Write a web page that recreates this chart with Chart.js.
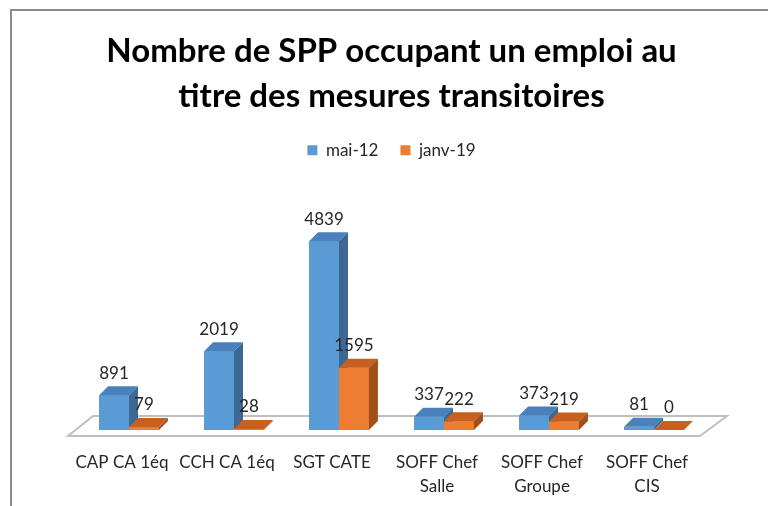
<html>

<head>
    <meta charset="utf-8">
    <title>Nombre de SPP</title>
    <script src="https://cdn.jsdelivr.net/npm/chart.js@4.4.1/dist/chart.umd.min.js"></script>
    <style>
        body { margin: 0; background: #fff; }
    </style>
</head>

<body>
    <canvas id="myChart" width="768" height="506"></canvas>
    <script>
        // data
        const categories = [['CAP CA 1éq'], ['CCH CA 1éq'], ['SGT CATE'], ['SOFF Chef', 'Salle'], ['SOFF Chef', 'Groupe'], ['SOFF Chef', 'CIS']];
        const seriesNames = ['mai-12', 'janv-19'];
        const mai12 = [891, 2019, 4839, 337, 373, 81];
        const janv19 = [79, 28, 1595, 222, 219, 0];

        const COLORS = {
            front: ['#5b9bd5', '#ed7d31'],
            top: ['#4a80bb', '#c7601f'],
            side: ['#3c6893', '#a1501c']
        };
        const FONT = 'Lato, "Open Sans", sans-serif';
        const DX = 9, DY = -9;   // bar depth

        // 3d faces, floor, frame and value labels
        const bars3d = {
            id: 'bars3d',
            beforeDraw(chart) {
                const ctx = chart.ctx;
                ctx.save();
                ctx.strokeStyle = '#8c8c8c';
                ctx.lineWidth = 2;
                ctx.beginPath();
                ctx.moveTo(11, 506);
                ctx.lineTo(11, 10);
                ctx.lineTo(768, 10);
                ctx.stroke();
                ctx.restore();
            },
            beforeDatasetsDraw(chart) {
                const ctx = chart.ctx;
                const { left, right } = chart.chartArea;
                const base = chart.scales.y.getPixelForValue(0);
                ctx.save();
                ctx.strokeStyle = '#bfbfbf';
                ctx.lineWidth = 2;
                ctx.beginPath();
                ctx.moveTo(left - 8.5, base + 6);
                ctx.lineTo(right - 6.5, base + 6);
                ctx.lineTo(right + 20.5, base - 14);
                ctx.lineTo(left + 16.5, base - 14);
                ctx.closePath();
                ctx.stroke();
                ctx.restore();
            },
            afterDatasetsDraw(chart) {
                const ctx = chart.ctx;
                ctx.save();
                // redraw series in order so the second one sits in front of the first
                chart.data.datasets.forEach((ds, i) => {
                    chart.getDatasetMeta(i).data.forEach(bar => {
                        bar.draw(ctx);
                        const l = bar.x - bar.width / 2, r = bar.x + bar.width / 2;
                        const t = bar.y, b = bar.base;
                        ctx.fillStyle = COLORS.top[i];
                        ctx.beginPath();
                        ctx.moveTo(l, t);
                        ctx.lineTo(l + DX, t + DY);
                        ctx.lineTo(r + DX, t + DY);
                        ctx.lineTo(r, t);
                        ctx.closePath();
                        ctx.fill();
                        ctx.fillStyle = COLORS.side[i];
                        ctx.beginPath();
                        ctx.moveTo(r, t);
                        ctx.lineTo(r + DX, t + DY);
                        ctx.lineTo(r + DX, b + DY);
                        ctx.lineTo(r, b);
                        ctx.closePath();
                        ctx.fill();
                    });
                });
                ctx.font = '17px ' + FONT;
                ctx.fillStyle = '#262626';
                ctx.textAlign = 'center';
                ctx.textBaseline = 'middle';
                chart.data.datasets.forEach((ds, i) => {
                    chart.getDatasetMeta(i).data.forEach((bar, j) => {
                        ctx.fillText(String(ds.data[j]), bar.x, bar.y + DY - 13);
                    });
                });
                ctx.restore();
            }
        };

        const ctx = document.getElementById('myChart');
        const data = {
            labels: categories,
            datasets: [
                {
                    label: seriesNames[0],
                    data: mai12,
                    backgroundColor: COLORS.front[0]
                },
                {
                    label: seriesNames[1],
                    data: janv19,
                    backgroundColor: COLORS.front[1]
                }
            ]
        };
        const config = {
            type: 'bar',
            data: data,
            options: {
                responsive: false,
                animation: false,
                devicePixelRatio: 1,
                categoryPercentage: 0.57,
                barPercentage: 1,
                layout: {
                    padding: { left: 76.5, right: 61.5, top: 0, bottom: 0 }
                },
                plugins: {
                    title: {
                        display: true,
                        text: ['Nombre de SPP occupant un emploi au', 'titre des mesures transitoires'],
                        color: '#000',
                        font: { family: FONT, size: 33, weight: 'bold', lineHeight: 1.36 },
                        padding: { top: 29, bottom: 1 }
                    },
                    legend: {
                        display: true,
                        labels: {
                            boxWidth: 10,
                            boxHeight: 10,
                            padding: 22,
                            color: '#262626',
                            font: { family: FONT, size: 17 }
                        }
                    },
                    tooltip: { enabled: false }
                },
                scales: {
                    x: {
                        grid: { display: false, drawTicks: false },
                        border: { display: false },
                        ticks: {
                            autoSkip: false,
                            maxRotation: 0,
                            padding: 20,
                            labelOffset: -7,
                            color: '#262626',
                            font: { family: FONT, size: 17, lineHeight: 1.45 }
                        },
                        afterFit(scale) {
                            scale.height = 76;
                        }
                    },
                    y: {
                        display: false,
                        min: 0,
                        max: 6700
                    }
                }
            },
            plugins: [bars3d]
        };
        const myChart = new Chart(ctx, config);
    </script>
</body>

</html>
